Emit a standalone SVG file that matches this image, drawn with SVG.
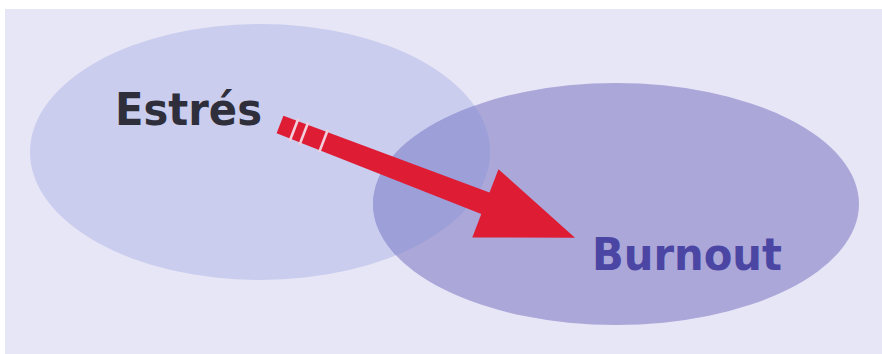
<svg xmlns="http://www.w3.org/2000/svg" width="882" height="354" viewBox="0 0 882 354">
<style>
.lbl{font-family:"DejaVu Sans","Verdana",sans-serif;font-weight:bold;font-size:44px}
.gap{stroke:#f2cfdc;stroke-width:2.6}
</style>
<defs>
<clipPath id="clipR"><ellipse cx="616" cy="204" rx="243" ry="121"/></clipPath>
</defs>
<rect x="0" y="0" width="882" height="354" fill="#ffffff"/>
<rect x="5" y="9" width="877" height="345" fill="#e7e6f6"/>
<g id="estres">
<ellipse cx="260" cy="152" rx="230" ry="128" fill="#cacdee"/>
</g>
<g id="burnout">
<ellipse cx="616" cy="204" rx="243" ry="121" fill="#aba7d9"/>
<ellipse cx="260" cy="152" rx="230" ry="128" fill="#9c9fd8" clip-path="url(#clipR)"/>
</g>
<g id="connectors">
<g transform="translate(280,124.5) rotate(21)">
<polygon points="0,-9.5 220,-11.5 220,-36.5 316,0 220,36.5 220,11.5 0,9.5" fill="#de1d35"/>
<line class="gap" x1="15" y1="-12" x2="15" y2="12"/>
<line class="gap" x1="25.5" y1="-12" x2="25.5" y2="12"/>
<line class="gap" x1="46.5" y1="-12" x2="46.5" y2="12"/>
</g>
</g>
<text class="lbl" x="115" y="125" fill="#2f2f3b" textLength="147" lengthAdjust="spacingAndGlyphs">Estrés</text>
<text class="lbl" x="592" y="270" fill="#4b46a3" textLength="190" lengthAdjust="spacingAndGlyphs">Burnout</text>
</svg>
